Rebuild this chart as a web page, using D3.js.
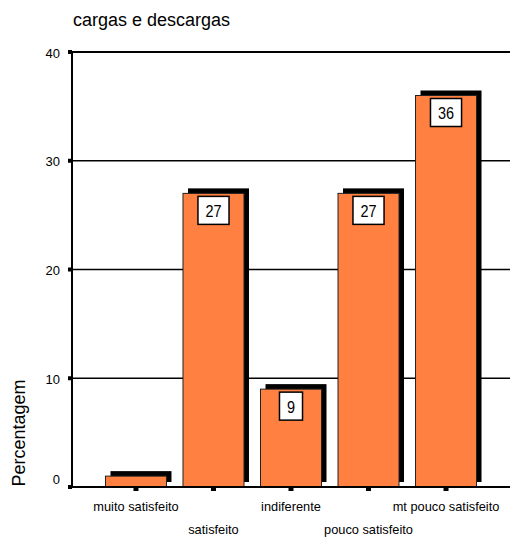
<!DOCTYPE html>
<html>
<head>
<meta charset="utf-8">
<script src="https://cdn.jsdelivr.net/npm/d3@7"></script>
<style>
  html, body { margin: 0; padding: 0; background: #fff; }
  svg { display: block; }
  text { font-family: "Liberation Sans", Arial, sans-serif; fill: #000; }
</style>
</head>
<body>
<svg id="chart" width="510" height="537"></svg>
<script>
// Satisfaction with loading/unloading ("cargas e descargas"), in percent
const categories = ["muito satisfeito", "satisfeito", "indiferente", "pouco satisfeito", "mt pouco satisfeito"];
const values = [1, 27, 9, 27, 36];
const valueLabels = [null, "27", "9", "27", "36"];
const yTicks = [0, 10, 20, 30, 40];
const chartTitle = "cargas e descargas";
const yTitle = "Percentagem";

const svg = d3.select("#chart");
const plotLeft = 72, plotRight = 510, plotTop = 52, plotBottom = 487;

const y = d3.scaleLinear().domain([0, 40]).range([plotBottom, plotTop]);
const x = d3.scaleBand().domain(categories).range([plotLeft, plotRight])
  .paddingInner(0.213).paddingOuter(0.432);

// title
svg.append("text").attr("x", 73).attr("y", 26)
  .style("font-size", "18px").text(chartTitle);

// horizontal gridlines
svg.append("g").selectAll("line").data(yTicks.filter(d => d > 0)).join("line")
  .attr("x1", plotLeft).attr("x2", plotRight)
  .attr("y1", d => y(d)).attr("y2", d => y(d))
  .attr("stroke", "#000").attr("stroke-width", d => d === 40 ? 2 : 1.5);

// bars with a drop shadow offset up and to the right
const sh = 5;
const bars = svg.append("g").selectAll("g").data(values).join("g");
bars.append("rect")
  .attr("x", (d, i) => x(categories[i]) + sh)
  .attr("y", d => y(d) - sh)
  .attr("width", x.bandwidth())
  .attr("height", d => y(0) - y(d))
  .attr("fill", "#000");
bars.append("rect")
  .attr("x", (d, i) => x(categories[i]))
  .attr("y", d => y(d))
  .attr("width", x.bandwidth())
  .attr("height", d => y(0) - y(d))
  .attr("fill", "#ff8040")
  .attr("stroke", "#222").attr("stroke-width", 1);

// y axis line and baseline
svg.append("line").attr("x1", plotLeft).attr("x2", plotLeft)
  .attr("y1", plotTop - 1).attr("y2", plotBottom + 1)
  .attr("stroke", "#000").attr("stroke-width", 2);
svg.append("line").attr("x1", plotLeft - 2).attr("x2", plotRight)
  .attr("y1", plotBottom).attr("y2", plotBottom)
  .attr("stroke", "#000").attr("stroke-width", 2);

// y ticks and labels
const yt = svg.append("g");
yt.selectAll("rect").data(yTicks).join("rect")
  .attr("x", plotLeft - 4).attr("y", d => y(d) - 2)
  .attr("width", 4).attr("height", 4).attr("fill", "#000");
yt.selectAll("text").data(yTicks).join("text")
  .attr("x", 60)
  .attr("y", d => Math.min(y(d) + 1, y(0) - 8))
  .attr("dy", "0.35em")
  .attr("text-anchor", "end")
  .style("font-size", "13px")
  .text(d => d);

// x ticks (under each bar centre) and staggered category labels
const xt = svg.append("g");
xt.selectAll("rect").data(categories).join("rect")
  .attr("x", d => x(d) + x.bandwidth() / 2 - 2.5)
  .attr("y", plotBottom)
  .attr("width", 5).attr("height", 4).attr("fill", "#000");
xt.selectAll("text").data(categories).join("text")
  .attr("x", d => x(d) + x.bandwidth() / 2)
  .attr("y", (d, i) => i % 2 === 0 ? 511 : 533.5)
  .attr("text-anchor", "middle")
  .style("font-size", "12.8px")
  .text(d => d);

// value boxes inside the bars
const scaleX = 0.85;
values.forEach((v, i) => {
  const lab = valueLabels[i];
  if (!lab) return;
  const cx = x(categories[i]) + x.bandwidth() / 2;
  const g = svg.append("g").attr("transform", `translate(${cx},${y(v) + 3})`);
  const box = g.append("rect");
  const t = g.append("text")
    .attr("transform", `scale(${scaleX},1)`)
    .attr("x", 0).attr("y", 20.5)
    .attr("text-anchor", "middle")
    .style("font-size", "17px")
    .text(lab);
  const w = t.node().getComputedTextLength() * scaleX + 15;
  box.attr("x", -w / 2).attr("y", 0).attr("width", w).attr("height", 28)
    .attr("fill", "#fff").attr("stroke", "#000").attr("stroke-width", 1.5);
});

// y axis title
svg.append("text")
  .attr("transform", "translate(25,433) rotate(-90)")
  .attr("text-anchor", "middle")
  .style("font-size", "18px")
  .text(yTitle);
</script>
</body>
</html>
